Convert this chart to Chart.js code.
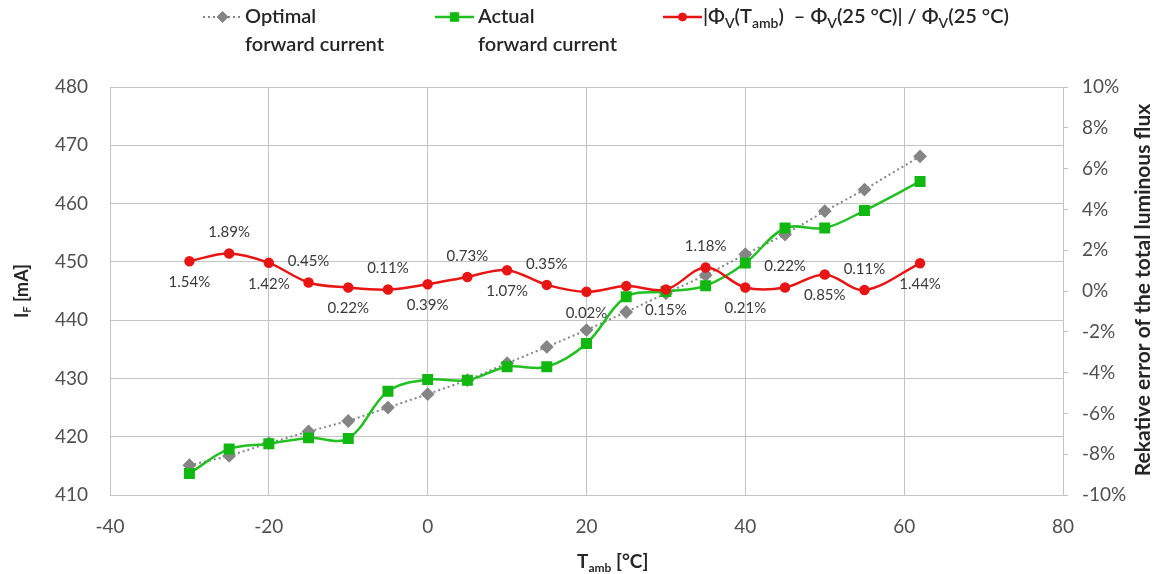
<!DOCTYPE html>
<html>
<head>
<meta charset="utf-8">
<script src="https://cdn.jsdelivr.net/npm/chart.js@4"></script>
<style>
  html, body { margin: 0; padding: 0; background: #ffffff; }
  #wrap { width: 1161px; height: 574px; position: relative; }
</style>
</head>
<body>
<div id="wrap"><canvas id="c"></canvas></div>
<script>
// ---- data ----
const temps = [-30, -25, -20, -15, -10, -5, 0, 5, 10, 15, 20, 25, 30, 35, 40, 45, 50, 55, 62];
const optimalCurrent = [415.1, 416.7, 418.9, 420.9, 422.7, 425.0, 427.3, 429.7, 432.6, 435.4, 438.3, 441.4, 444.6, 447.7, 451.3, 454.7, 458.7, 462.4, 468.1];
const actualCurrent  = [413.7, 417.9, 418.8, 419.8, 419.7, 427.8, 429.8, 429.7, 432.0, 432.0, 436.0, 444.0, 444.9, 445.9, 449.8, 455.8, 455.8, 458.8, 463.8];
const fluxError      = [1.46, 1.84, 1.38, 0.42, 0.17, 0.07, 0.33, 0.69, 1.02, 0.30, -0.04, 0.24, 0.07, 1.15, 0.17, 0.17, 0.81, 0.05, 1.36];
const fluxLabels     = ['1.54%', '1.89%', '1.42%', '0.45%', '0.22%', '0.11%', '0.39%', '0.73%', '1.07%', '0.35%', '0.02%', '', '0.15%', '1.18%', '0.21%', '0.22%', '0.85%', '0.11%', '1.44%'];
const xTicks = [-40, -20, 0, 20, 40, 60, 80];
const leftTicks = [410, 420, 430, 440, 450, 460, 470, 480];
const rightTicks = [-10, -8, -6, -4, -2, 0, 2, 4, 6, 8, 10];

const FONT = 'Lato, Carlito, "Open Sans", sans-serif';
const GRID = '#c4c4c4';
const GRAY = '#858585';
const GREEN = '#22c022';
const RED = '#e81515';

const toXY = (ys) => temps.map((t, i) => ({ x: t, y: ys[i] }));

function drawRich(ctx, parts, x, y, size, weight, align, subRatio) {
  // parts: [text, isSub]
  const subSize = Math.round(size * (subRatio || 0.62));
  let total = 0;
  parts.forEach(p => {
    ctx.font = `${weight} ${p[1] ? subSize : size}px ${FONT}`;
    total += ctx.measureText(p[0]).width;
  });
  let cx = align === 'center' ? x - total / 2 : x;
  ctx.textAlign = 'left';
  ctx.textBaseline = 'middle';
  parts.forEach(p => {
    ctx.font = `${weight} ${p[1] ? subSize : size}px ${FONT}`;
    ctx.fillText(p[0], cx, p[1] ? y + size * 0.3 : y);
    cx += ctx.measureText(p[0]).width;
  });
}

const decor = {
  id: 'decor',
  afterDatasetsDraw(chart) {
    const ctx = chart.ctx;
    const meta = chart.getDatasetMeta(2);
    ctx.save();
    ctx.font = `15px ${FONT}`;
    ctx.fillStyle = '#3a3a3a';
    ctx.textAlign = 'center';
    ctx.textBaseline = 'middle';
    meta.data.forEach((pt, i) => {
      const s = fluxLabels[i];
      if (!s) return;
      const dy = i % 2 === 0 ? 21 : -21;
      ctx.fillText(s, pt.x, pt.y + dy);
    });
    ctx.restore();
  },
  afterDraw(chart) {
    const ctx = chart.ctx;
    ctx.save();
    ctx.fillStyle = '#262626';
    // left axis title
    ctx.save();
    ctx.translate(22, 291);
    ctx.rotate(-Math.PI / 2);
    drawRich(ctx, [['I', false], ['F', true], [' [mA]', false]], 0, 0, 18, 'bold', 'center');
    ctx.restore();
    // right axis title (reads bottom to top)
    ctx.save();
    ctx.translate(1143, 290);
    ctx.rotate(-Math.PI / 2);
    drawRich(ctx, [['Rekative error of the total luminous flux', false]], 0, 0, 21, 'bold', 'center');
    ctx.restore();
    // x axis title
    drawRich(ctx, [['T', false], ['amb', true], [' [°C]', false]], 577, 562, 19, 'bold', 'left');

    // legend
    const items = [
      { x: 203, tx: 245, ds: 0, lines: [[['Optimal', false]], [['forward current', false]]] },
      { x: 435, tx: 478, ds: 1, lines: [[['Actual', false]], [['forward current', false]]] },
      { x: 663, tx: 703, ds: 2, lines: [[['|Φ', false], ['V', true], ['(T', false], ['amb', true], [')  – Φ', false], ['V', true], ['(25 °C)| / Φ', false], ['V', true], ['(25 °C)', false]]] }
    ];
    items.forEach(it => {
      const d = chart.data.datasets[it.ds];
      const y = 17;
      ctx.save();
      ctx.strokeStyle = d.borderColor;
      ctx.lineWidth = d.borderWidth;
      ctx.setLineDash(d.borderDash || []);
      ctx.beginPath();
      ctx.moveTo(it.x, y);
      ctx.lineTo(it.x + 39, y);
      ctx.stroke();
      ctx.setLineDash([]);
      ctx.fillStyle = d.pointBackgroundColor;
      ctx.strokeStyle = d.pointBorderColor;
      ctx.lineWidth = 1;
      Chart.helpers.drawPoint(ctx, { pointStyle: d.pointStyle, radius: d.pointRadius, borderWidth: 1 }, it.x + 19.5, y);
      ctx.restore();
      ctx.fillStyle = '#262626';
      it.lines.forEach((ln, k) => {
        drawRich(ctx, ln, it.tx, y + k * 28, 20, '600', 'left', 0.7);
      });
    });
    ctx.restore();
  }
};

new Chart(document.getElementById('c'), {
  type: 'line',
  data: {
    datasets: [
      {
        label: 'Optimal forward current',
        data: toXY(optimalCurrent),
        yAxisID: 'y',
        borderColor: GRAY,
        borderWidth: 2,
        borderDash: [2, 3],
        pointStyle: 'rectRot',
        pointRadius: 5.5,
        pointBackgroundColor: GRAY,
        pointBorderColor: GRAY,
        tension: 0,
        order: 3
      },
      {
        label: 'Actual forward current',
        data: toXY(actualCurrent),
        yAxisID: 'y',
        borderColor: GREEN,
        borderWidth: 2.5,
        pointStyle: 'rect',
        pointRadius: 6,
        pointBackgroundColor: '#12b812',
        pointBorderColor: '#12b812',
        tension: 0.35,
        order: 2
      },
      {
        label: '|ΦV(Tamb) – ΦV(25 °C)| / ΦV(25 °C)',
        data: toXY(fluxError),
        yAxisID: 'y2',
        borderColor: RED,
        borderWidth: 2.5,
        pointStyle: 'circle',
        pointRadius: 4,
        pointBackgroundColor: RED,
        pointBorderColor: RED,
        tension: 0.35,
        order: 1
      }
    ]
  },
  options: {
    responsive: true,
    maintainAspectRatio: false,
    animation: false,
    layout: { padding: { top: 87, left: 0, right: 0, bottom: 0 } },
    plugins: { legend: { display: false }, tooltip: { enabled: false } },
    scales: {
      x: {
        type: 'linear',
        min: -40, max: 80,
        afterBuildTicks: (s) => { s.ticks = xTicks.map(v => ({ value: v })); },
        afterFit: (s) => { s.height = 79; },
        grid: { color: GRID, drawTicks: false },
        border: { color: GRID },
        ticks: { padding: 20, color: '#505050', font: { family: FONT, size: 19 } }
      },
      y: {
        position: 'left',
        min: 410, max: 480,
        afterBuildTicks: (s) => { s.ticks = leftTicks.map(v => ({ value: v })); },
        afterFit: (s) => { s.width = 110; },
        grid: { color: GRID, drawTicks: false },
        border: { color: GRID },
        ticks: { padding: 22, color: '#505050', font: { family: FONT, size: 19 } }
      },
      y2: {
        position: 'right',
        min: -10, max: 10,
        afterBuildTicks: (s) => { s.ticks = rightTicks.map(v => ({ value: v })); },
        afterFit: (s) => { s.width = 98; },
        grid: { drawOnChartArea: false, color: GRID, drawTicks: true, tickLength: 5 },
        border: { color: GRID },
        ticks: { padding: 14, color: '#505050', font: { family: FONT, size: 19 }, callback: (v) => v + '%' }
      }
    }
  },
  plugins: [decor]
});
</script>
</body>
</html>
